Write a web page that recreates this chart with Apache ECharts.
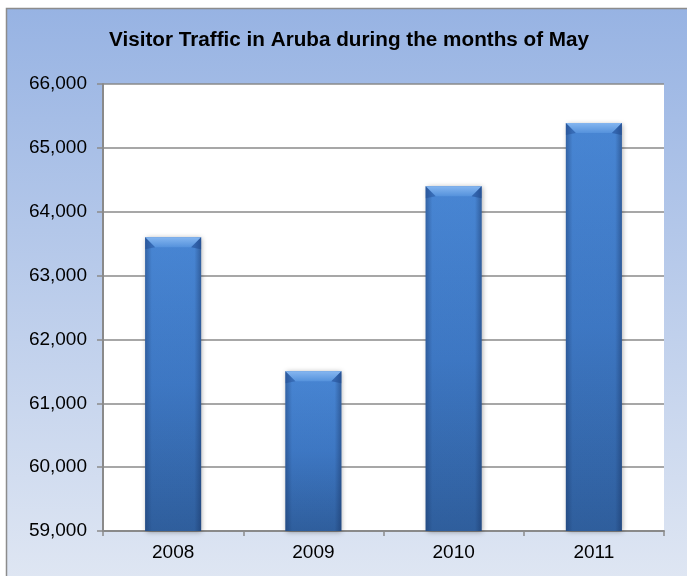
<!DOCTYPE html>
<html><head><meta charset="utf-8">
<script src="https://cdn.jsdelivr.net/npm/echarts@6/dist/echarts.min.js"></script>
<style>html,body{margin:0;padding:0;background:#fff;}#c{width:687px;height:576px;}</style>
</head><body><div id="c"></div>
<script>
const categories = ['2008', '2009', '2010', '2011'];
const visitors = [63600, 61500, 64400, 65390];
const yTicks = [59000, 60000, 61000, 62000, 63000, 64000, 65000, 66000];

const BAR_W = 56;
const chart = echarts.init(document.getElementById('c'));
const fmt = v => v.toLocaleString('en-US');
chart.setOption({
  animation: false,
  backgroundColor: '#ffffff',
  graphic: [{
    type: 'rect', z: -100, silent: true,
    shape: { x: 6.5, y: 8.5, width: 690, height: 580 },
    style: {
      fill: new echarts.graphic.LinearGradient(0, 0, 0, 1, [
        { offset: 0, color: '#97b3e3' },
        { offset: 1, color: '#e0e7f3' }
      ]),
      stroke: '#8c8c8c', lineWidth: 1.5
    }
  }],
  title: {
    text: 'Visitor Traffic in Aruba during the months of May',
    left: 104, top: 25,
    textStyle: { fontFamily: 'Liberation Sans, Arial', fontSize: 20.7, fontWeight: 'bold', color: '#000' }
  },
  grid: { left: 103, right: 23, top: 84, bottom: 45, show: true, backgroundColor: '#ffffff', borderWidth: 0 },
  xAxis: {
    type: 'category', data: categories,
    axisLine: { lineStyle: { color: '#8a8a8a', width: 2 } },
    axisTick: { show: true, length: 5, lineStyle: { color: '#8a8a8a', width: 1.5 } },
    axisLabel: { fontFamily: 'Liberation Sans, Arial', fontSize: 19, color: '#000', margin: 12 }
  },
  yAxis: {
    type: 'value', min: yTicks[0], max: yTicks[yTicks.length - 1], interval: 1000,
    axisLine: { show: true, lineStyle: { color: '#8a8a8a', width: 2 } },
    axisTick: { show: true, length: 6, lineStyle: { color: '#8a8a8a', width: 1.5 } },
    splitLine: { lineStyle: { color: '#8a8a8a', width: 1.5 } },
    axisLabel: { fontFamily: 'Liberation Sans, Arial', fontSize: 19, color: '#000', margin: 16, formatter: fmt }
  },
  series: [{
    type: 'bar', data: visitors, barWidth: BAR_W, z: 3,
    itemStyle: {
      color: new echarts.graphic.LinearGradient(0, 0, 0, 1, [
        { offset: 0, color: '#4a89d8' },
        { offset: 0.5, color: '#3f7ac7' },
        { offset: 1, color: '#30609f' }
      ]),
      shadowColor: 'rgba(0,0,0,0.35)', shadowBlur: 5, shadowOffsetX: 1, shadowOffsetY: 1
    }
  }, {
    type: 'bar', data: visitors, barWidth: BAR_W, barGap: '-100%', z: 4, silent: true,
    itemStyle: {
      color: new echarts.graphic.LinearGradient(0, 0, 1, 0, [
        { offset: 0, color: 'rgba(20,45,90,0.4)' },
        { offset: 0.12, color: 'rgba(20,45,90,0.04)' },
        { offset: 0.88, color: 'rgba(20,45,90,0.04)' },
        { offset: 1, color: 'rgba(20,45,90,0.45)' }
      ])
    }
  }, {
    type: 'custom', z: 5, silent: true, data: visitors.map((v, i) => [i, v]),
    renderItem: function (params, api) {
      const p = api.coord([api.value(0), api.value(1)]);
      const h = BAR_W / 2, bev = 10;
      return {
        type: 'group', children: [{
          type: 'polygon',
          shape: { points: [[p[0] - h, p[1]], [p[0] + h, p[1]], [p[0] + h - bev, p[1] + bev], [p[0] - h + bev, p[1] + bev]] },
          style: {
            fill: new echarts.graphic.LinearGradient(0, 0, 0, 1, [
              { offset: 0, color: '#85b6f0' },
              { offset: 1, color: '#5592dc' }
            ])
          }
        }, {
          type: 'polygon',
          shape: { points: [[p[0] - h, p[1]], [p[0] - h + bev, p[1] + bev], [p[0] - h, p[1] + bev + 2]] },
          style: { fill: 'rgba(30,70,140,0.4)' }
        }, {
          type: 'polygon',
          shape: { points: [[p[0] + h, p[1]], [p[0] + h - bev, p[1] + bev], [p[0] + h, p[1] + bev + 2]] },
          style: { fill: 'rgba(30,70,140,0.5)' }
        }]
      };
    }
  }]
});
</script></body></html>
